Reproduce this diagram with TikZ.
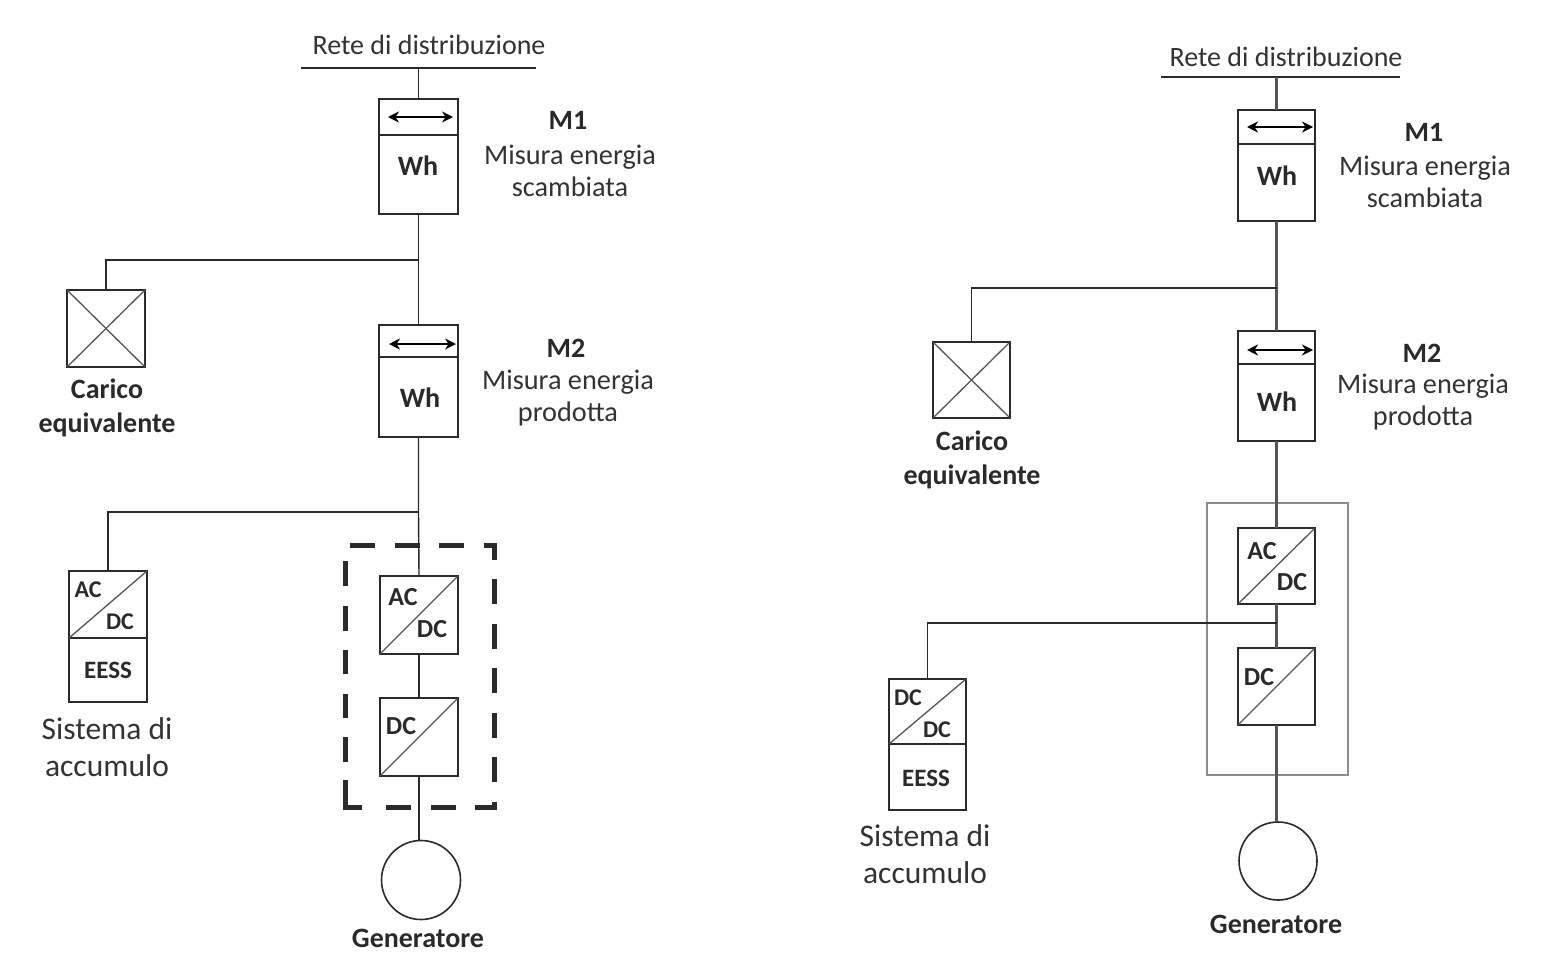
\documentclass[tikz,border=0pt]{standalone}
\usepackage{fontspec}
\setmainfont{Carlito}
\usetikzlibrary{arrows.meta}
\definecolor{ink}{HTML}{2A2A2A}
\definecolor{txt}{HTML}{333333}
\definecolor{frame}{HTML}{8C8C8C}
\definecolor{soft}{HTML}{555555}
\tikzset{
  x=1pt,y=-1pt,
  cell/.style={draw=ink,line width=1.9pt,fill=white,inner sep=0pt,outer sep=0pt},
  wire/.style={draw=ink,line width=1.8pt},
  hair/.style={draw=ink,line width=1.4pt},
  diag/.style={draw=soft,line width=1.3pt},
  rwire/.style={draw=soft,line width=2.1pt},
  dblarrow/.style={draw=black,line width=1.9pt,{Stealth[length=11pt,width=11pt]}-{Stealth[length=11pt,width=11pt]}},
  lab/.style={text=txt,align=center,inner sep=0pt,font=\fontsize{28.3}{32.5}\selectfont},
  rete/.style={text=txt,inner sep=0pt,font=\fontsize{28}{32}\selectfont},
  sis/.style={text=txt,align=center,inner sep=0pt,font=\fontsize{31.5}{37.5}\selectfont},
  blab/.style={text=ink,align=center,inner sep=0pt,font=\fontsize{28}{34}\selectfont\bfseries},
  big/.style={text=ink,inner sep=0pt,font=\fontsize{26}{30}\selectfont\bfseries},
  slab/.style={text=ink,inner sep=0pt,font=\fontsize{24}{28}\selectfont\bfseries},
  tlab/.style={text=ink,inner sep=0pt,font=\fontsize{25}{28}\selectfont\bfseries},
}
% \cellnode{name}{x1}{y1}{x2}{y2}
\newcommand{\cellnode}[5]{%
  \pgfmathsetmacro{\cw}{#4-#2}\pgfmathsetmacro{\ch}{#5-#3}%
  \node[cell,minimum width=\cw pt,minimum height=\ch pt] (#1) at ({(#2+#4)/2},{(#3+#5)/2}) {};}
\begin{document}
\begin{tikzpicture}
\useasboundingbox (0,0) rectangle (1568,974);
\fill[white] (0,0) rectangle (1568,974);

% ---------- LEFT ----------
\coordinate (lbusa) at (301,68);
\coordinate (lbusb) at (536,68);
\coordinate (lbusc) at (418.5,68);
\coordinate (lj1) at (418.5,260);
\coordinate (lj2) at (418.5,512);
\draw[wire] (lbusa) -- (lbusb);
\node[rete] (lrete) at (429,45) {Rete di distribuzione};

\cellnode{lm1a}{379}{99}{458}{135}
\cellnode{lm1b}{379}{135}{458}{214}
\draw[dblarrow] (388,117) -- (453,117);
\node[blab] (lwh1) at (418,166) {Wh};
\node[blab] (lm1t) at (568,120) {M1};
\node[lab] (lm1d) at (570,171) {Misura energia\\scambiata};

\cellnode{lload}{67}{290}{145}{367}
\draw[diag] (lload.north west) -- (lload.south east);
\draw[diag] (lload.north east) -- (lload.south west);
\node[blab] (lloadt) at (107,408) {Carico\\equivalente};

\cellnode{lm2a}{379}{325}{458}{357}
\cellnode{lm2b}{379}{357}{458}{437}
\draw[dblarrow] (389,344) -- (456,344);
\node[blab] (lwh2) at (420,398) {Wh};
\node[blab] (lm2t) at (566,348) {M2};
\node[lab] (lm2d) at (568,398) {Misura energia\\prodotta};

\cellnode{lconva}{69}{571}{147}{638}
\cellnode{lesa}{69}{638}{147}{702}
\draw[diag] (lconva.south west) -- (lconva.north east);
\node[slab] at (88,590) {AC};
\node[slab] at (120,622) {DC};
\node[tlab] (lees) at (108,670) {EESS};
\node[sis] (lsis) at (107,747) {Sistema di\\accumulo};

% dashed enclosure: top, right and bottom run, then the left side
\draw[draw=ink,line width=5pt,dash pattern=on 25pt off 19.5pt,dash phase=39.5pt]
  (345,545) -- (494,545) -- (494,807.5) -- (372,807.5);
\draw[draw=ink,line width=5pt,dash pattern=on 45pt off 18pt on 25pt off 19pt on 24pt off 20pt on 24pt off 19pt on 25pt off 20pt on 25pt off 100pt]
  (362,807.5) -- (345,807.5) -- (345,550);

\cellnode{lac}{380}{576}{458}{654}
\cellnode{ldc}{380}{698}{458}{776}
\draw[diag] (lac.south west) -- (lac.north east);
\draw[diag] (ldc.south west) -- (ldc.north east);
\node[big] at (403,597) {AC};
\node[big] at (432,629) {DC};
\node[big] at (401,726) {DC};

\node[draw=ink,line width=1.6pt,circle,minimum size=79pt,inner sep=0pt,outer sep=0pt] (lgen) at (421,880) {};
\node[blab] (lgent) at (418,938) {Generatore};

\draw[hair] (lbusc) -- (lm1a.north);
\draw[hair] (lm1b.south) -- (lj1) -- (lm2a.north);
\draw[wire] (lj1) -| (lload.north);
\draw[hair] (lm2b.south) -- (lj2) -- (lac.north);
\draw[wire] (lj2) -| (lconva.north);
\draw[hair] (lac.south) -- (ldc.north);
\draw[hair] (ldc.south) -- (lgen.north -| ldc.south);

% ---------- RIGHT ----------
\coordinate (rbusa) at (1161,77);
\coordinate (rbusb) at (1400,77);
\coordinate (rbusc) at (1276.5,77);
\coordinate (rj1) at (1276.5,288);
\coordinate (rj2) at (1276.5,623);
\draw[wire] (rbusa) -- (rbusb);
\node[rete] (rrete) at (1286,57) {Rete di distribuzione};

\draw[draw=frame,line width=2pt] (1207,503) rectangle (1348,775);

\cellnode{rm1a}{1238}{110}{1315}{144}
\cellnode{rm1b}{1238}{144}{1315}{221}
\draw[dblarrow] (1247,127) -- (1313,127);
\node[blab] (rwh1) at (1277,176) {Wh};
\node[blab] (rm1t) at (1424,132) {M1};
\node[lab] (rm1d) at (1425,182) {Misura energia\\scambiata};

\cellnode{rload}{933}{342}{1010}{418}
\draw[diag] (rload.north west) -- (rload.south east);
\draw[diag] (rload.north east) -- (rload.south west);
\node[blab] (rloadt) at (972,459.5) {Carico\\equivalente};

\cellnode{rm2a}{1238}{331}{1315}{364}
\cellnode{rm2b}{1238}{364}{1315}{441}
\draw[dblarrow] (1247,350) -- (1313,350);
\node[blab] (rwh2) at (1277,402) {Wh};
\node[blab] (rm2t) at (1422,353) {M2};
\node[lab] (rm2d) at (1423,402) {Misura energia\\prodotta};

\cellnode{rconva}{889}{679}{966}{744}
\cellnode{resa}{889}{744}{966}{810}
\draw[diag] (rconva.south west) -- (rconva.north east);
\node[slab] at (908,698) {DC};
\node[slab] at (937,730) {DC};
\node[tlab] (rees) at (926,778) {EESS};
\node[sis] (rsis) at (925,854) {Sistema di\\accumulo};

\cellnode{rac}{1238}{528}{1315}{604}
\cellnode{rdc}{1238}{648}{1315}{725}
\draw[diag] (rac.south west) -- (rac.north east);
\draw[diag] (rdc.south west) -- (rdc.north east);
\node[big] at (1262,551) {AC};
\node[big] at (1292,582) {DC};
\node[big] at (1259,677) {DC};

\node[draw=ink,line width=1.6pt,circle,minimum size=78pt,inner sep=0pt,outer sep=0pt] (rgen) at (1278,861) {};
\node[blab] (rgent) at (1276,924) {Generatore};

\draw[rwire] (rbusc) -- (rm1a.north);
\draw[rwire] (rm1b.south) -- (rj1) -- (rm2a.north);
\draw[wire] (rj1) -| (rload.north);
\draw[rwire] (rm2b.south) -- (rac.north);
\draw[rwire] (rac.south) -- (rj2) -- (rdc.north);
\draw[wire] (rj2) -| (rconva.north);
\draw[rwire] (rdc.south) -- (rgen.north -| rdc.south);
\end{tikzpicture}
\end{document}
